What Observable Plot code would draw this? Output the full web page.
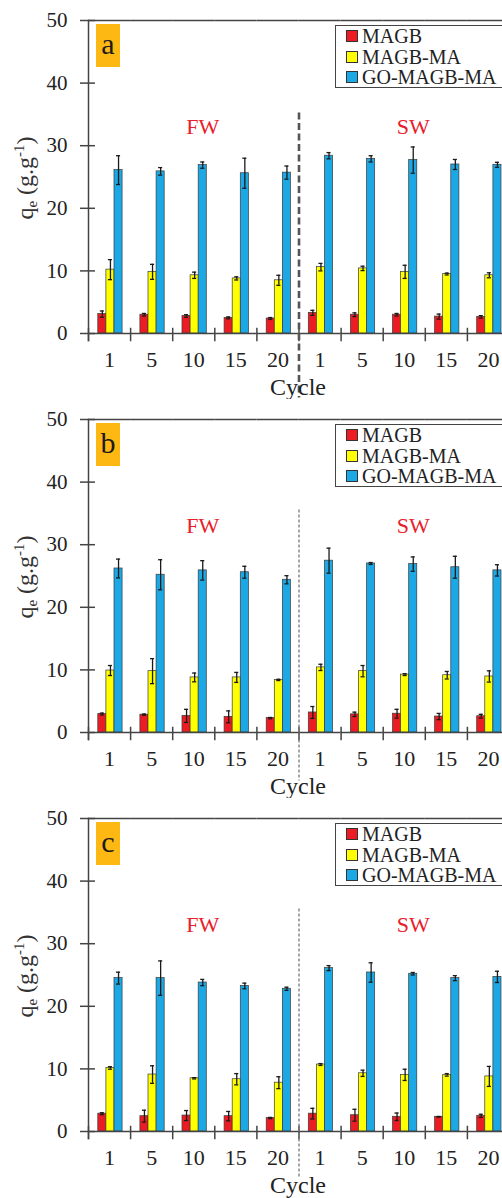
<!DOCTYPE html>
<html><head><meta charset="utf-8">
<script src="https://cdn.jsdelivr.net/npm/d3@7"></script>
<script src="https://cdn.jsdelivr.net/npm/@observablehq/plot@0.6"></script>
<style>
html,body{margin:0;padding:0;background:#fff;overflow:hidden;}
.panel{position:relative;width:502px;overflow:hidden;background:#fff;}
.panel svg{display:block;}
.legend{position:absolute;left:335px;top:25px;width:200px;height:63px;border:1.5px solid #444;background:#fff;font-family:"Liberation Serif",serif;font-size:20px;line-height:20.5px;color:#222;box-sizing:border-box;padding-left:10px;padding-top:0px;}
.legend .row{display:flex;align-items:center;white-space:nowrap;}
.legend .sw{display:inline-block;width:10px;height:10px;border:1px solid #333;margin-right:4px;}
.tag{position:absolute;left:96px;top:24px;width:24px;height:43px;background:#fdb813;font-family:"Liberation Serif",serif;font-size:30px;line-height:40px;text-align:center;color:#1a1a1a;}
.ylab{position:absolute;left:25px;top:178px;transform:translate(-50%,-50%) rotate(-90deg);font-family:"Liberation Serif",serif;font-size:24px;white-space:nowrap;color:#333;line-height:1;}
.ylab sub{font-size:15px;vertical-align:-4px;line-height:0;}
.ylab sup{font-size:15px;vertical-align:9px;line-height:0;}
.xlab{position:absolute;left:298px;top:375px;transform:translateX(-50%);font-family:"Liberation Serif",serif;font-size:24px;line-height:24px;white-space:nowrap;color:#222;}
</style></head><body>
<div id="root"></div>
<script>
const series = ["MAGB", "MAGB-MA", "GO-MAGB-MA"];
const colors = ["#ec1c24", "#ffff00", "#1ba8e4"];
const media = ["FW", "SW"];
const cycles = ["1", "5", "10", "15", "20"];
const yTicks = [0, 10, 20, 30, 40, 50];
const panelLabels = ["a", "b", "c"];
const xTitle = "Cycle";

// Panel a
const aMAGB = [3.1, 3.0, 2.8, 2.5, 2.4, 3.3, 3.0, 3.0, 2.7, 2.65];
const aMAGBErr = [0.5, 0.2, 0.2, 0.15, 0.15, 0.4, 0.3, 0.2, 0.4, 0.2];
const aMAGBMA = [10.2, 9.85, 9.3, 8.8, 8.5, 10.6, 10.4, 9.85, 9.5, 9.3];
const aMAGBMAErr = [1.6, 1.2, 0.5, 0.25, 0.8, 0.6, 0.35, 1.05, 0.15, 0.4];
const aGO = [26.1, 25.9, 26.9, 25.6, 25.7, 28.4, 27.9, 27.7, 27.0, 26.95];
const aGOErr = [2.3, 0.6, 0.5, 2.4, 1.05, 0.5, 0.5, 2.1, 0.8, 0.4];
// Panel b
const bMAGB = [2.95, 2.85, 2.65, 2.5, 2.3, 3.2, 2.9, 3.0, 2.55, 2.6];
const bMAGBErr = [0.15, 0.1, 1.05, 0.95, 0.1, 0.95, 0.35, 0.7, 0.5, 0.3];
const bMAGBMA = [9.9, 9.8, 8.8, 8.8, 8.4, 10.4, 9.8, 9.25, 9.15, 8.95];
const bMAGBMAErr = [0.8, 2.0, 0.7, 0.8, 0.1, 0.5, 0.9, 0.15, 0.6, 0.9];
const bGO = [26.2, 25.2, 25.9, 25.6, 24.4, 27.45, 27.0, 26.9, 26.4, 25.9];
const bGOErr = [1.5, 2.4, 1.55, 0.95, 0.65, 2.0, 0.15, 1.15, 1.75, 0.9];
// Panel c
const cMAGB = [2.85, 2.45, 2.55, 2.45, 2.15, 2.85, 2.6, 2.35, 2.35, 2.5];
const cMAGBErr = [0.15, 0.95, 0.8, 0.75, 0.1, 0.85, 0.95, 0.6, 0.05, 0.25];
const cMAGBMA = [10.15, 9.1, 8.5, 8.35, 7.8, 10.7, 9.3, 9.05, 9.05, 8.8];
const cMAGBMAErr = [0.2, 1.4, 0.1, 0.9, 0.95, 0.15, 0.5, 0.9, 0.2, 1.6];
const cGO = [24.5, 24.5, 23.8, 23.25, 22.8, 26.1, 25.4, 25.2, 24.5, 24.7];
const cGOErr = [0.95, 2.75, 0.5, 0.45, 0.25, 0.4, 1.55, 0.2, 0.4, 0.9];

const keys = media.flatMap(m => cycles.map(c => `${m}-${c}`));
const dividerKey = `${media[1]}-${cycles[0]}`;
const mediaLabels = media.map(m => ({key: `${m}-${cycles[2]}`, label: m}));
const serifFont = '"Liberation Serif", serif';

const panelStyles = [
  {height: 399, divTop: 92, divBottom: 64, divColor: "#555", divWidth: 2.6, dash: "7,3.5"},
  {height: 399, divTop: 90, divBottom: 48, divColor: "#777", divWidth: 1.3, dash: "3,2"},
  {height: 400, divTop: 90, divBottom: 46, divColor: "#777", divWidth: 1.3, dash: "3,2"}
];

function buildPanel(label, vals, errs, st) {
  const rows = [];
  keys.forEach((k, gi) => series.forEach((s, si) =>
    rows.push({key: k, series: s, value: vals[si][gi], err: errs[si][gi]})));
  const H = st.height, mt = 20, mb = H - 333;
  const plotH = H - mt - mb;
  const errStyle = {stroke: "#1a1a1a", strokeWidth: 1.3};
  const svg = Plot.plot({
    width: 502, height: H, marginTop: mt, marginBottom: mb, marginLeft: 88, marginRight: -7,
    style: {fontFamily: serifFont, color: "#222", background: "transparent"},
    fx: {domain: keys, padding: 0, round: false},
    x: {domain: series, paddingInner: 0, paddingOuter: 1.1, align: 0.55, round: false, axis: null},
    y: {domain: [0, 50]},
    color: {domain: series, range: colors},
    marks: [
      Plot.ruleY([50], {stroke: "#444", strokeWidth: 1.5}),
      Plot.barY(rows, {fx: "key", x: "series", y: "value", fill: "series", stroke: "#3a3a3a", strokeWidth: 0.7}),
      Plot.ruleX(rows, {fx: "key", x: "series", y1: d => d.value - d.err, y2: d => d.value + d.err, ...errStyle}),
      Plot.tickY(rows, {fx: "key", x: "series", y: d => d.value + d.err, insetLeft: 2, insetRight: 2, ...errStyle}),
      Plot.tickY(rows, {fx: "key", x: "series", y: d => d.value - d.err, insetLeft: 2, insetRight: 2, ...errStyle}),
      Plot.ruleY([0], {stroke: "#444", strokeWidth: 1.5}),
      Plot.frame({anchor: "left", insetTop: plotH - 5, insetBottom: -7, stroke: "#444", strokeWidth: 1.5}),
      Plot.frame({anchor: "left", facetAnchor: "left", insetBottom: -7, stroke: "#444", strokeWidth: 1.5}),
      Plot.frame({anchor: "left", fx: [dividerKey], insetTop: st.divTop, insetBottom: -st.divBottom,
        stroke: st.divColor, strokeWidth: st.divWidth, strokeDasharray: st.dash, strokeLinecap: "butt"}),
      Plot.text(mediaLabels, {fx: "key", text: "label", y: 33, dx: 9, fill: "#e8202a", fontSize: 22, fontFamily: serifFont}),
      Plot.axisY({ticks: yTicks, tickSize: 15, dx: 7, tickPadding: 13, fontSize: 21, fontFamily: serifFont, label: null, stroke: "#444", strokeWidth: 1.5}),
      Plot.axisFx({anchor: "bottom", tickSize: 0, tickPadding: 18, fontSize: 22, fontFamily: serifFont, tickFormat: k => k.split("-")[1], label: null})
    ]
  });
  const div = document.createElement("div");
  div.className = "panel";
  div.style.height = H + "px";
  div.appendChild(svg);
  const lg = document.createElement("div");
  lg.className = "legend";
  series.forEach((s, i) => {
    const r = document.createElement("div");
    r.className = "row";
    const sw = document.createElement("span");
    sw.className = "sw";
    sw.style.background = colors[i];
    r.appendChild(sw);
    r.appendChild(document.createTextNode(s));
    lg.appendChild(r);
  });
  div.appendChild(lg);
  const tag = document.createElement("div");
  tag.className = "tag";
  tag.textContent = label;
  div.appendChild(tag);
  const yl = document.createElement("div");
  yl.className = "ylab";
  yl.innerHTML = "q<sub>e</sub> (g.g<sup>-1</sup>)";
  div.appendChild(yl);
  const xl = document.createElement("div");
  xl.className = "xlab";
  xl.textContent = xTitle;
  div.appendChild(xl);
  document.getElementById("root").appendChild(div);
}

buildPanel(panelLabels[0], [aMAGB, aMAGBMA, aGO], [aMAGBErr, aMAGBMAErr, aGOErr], panelStyles[0]);
buildPanel(panelLabels[1], [bMAGB, bMAGBMA, bGO], [bMAGBErr, bMAGBMAErr, bGOErr], panelStyles[1]);
buildPanel(panelLabels[2], [cMAGB, cMAGBMA, cGO], [cMAGBErr, cMAGBMAErr, cGOErr], panelStyles[2]);
</script></body></html>
